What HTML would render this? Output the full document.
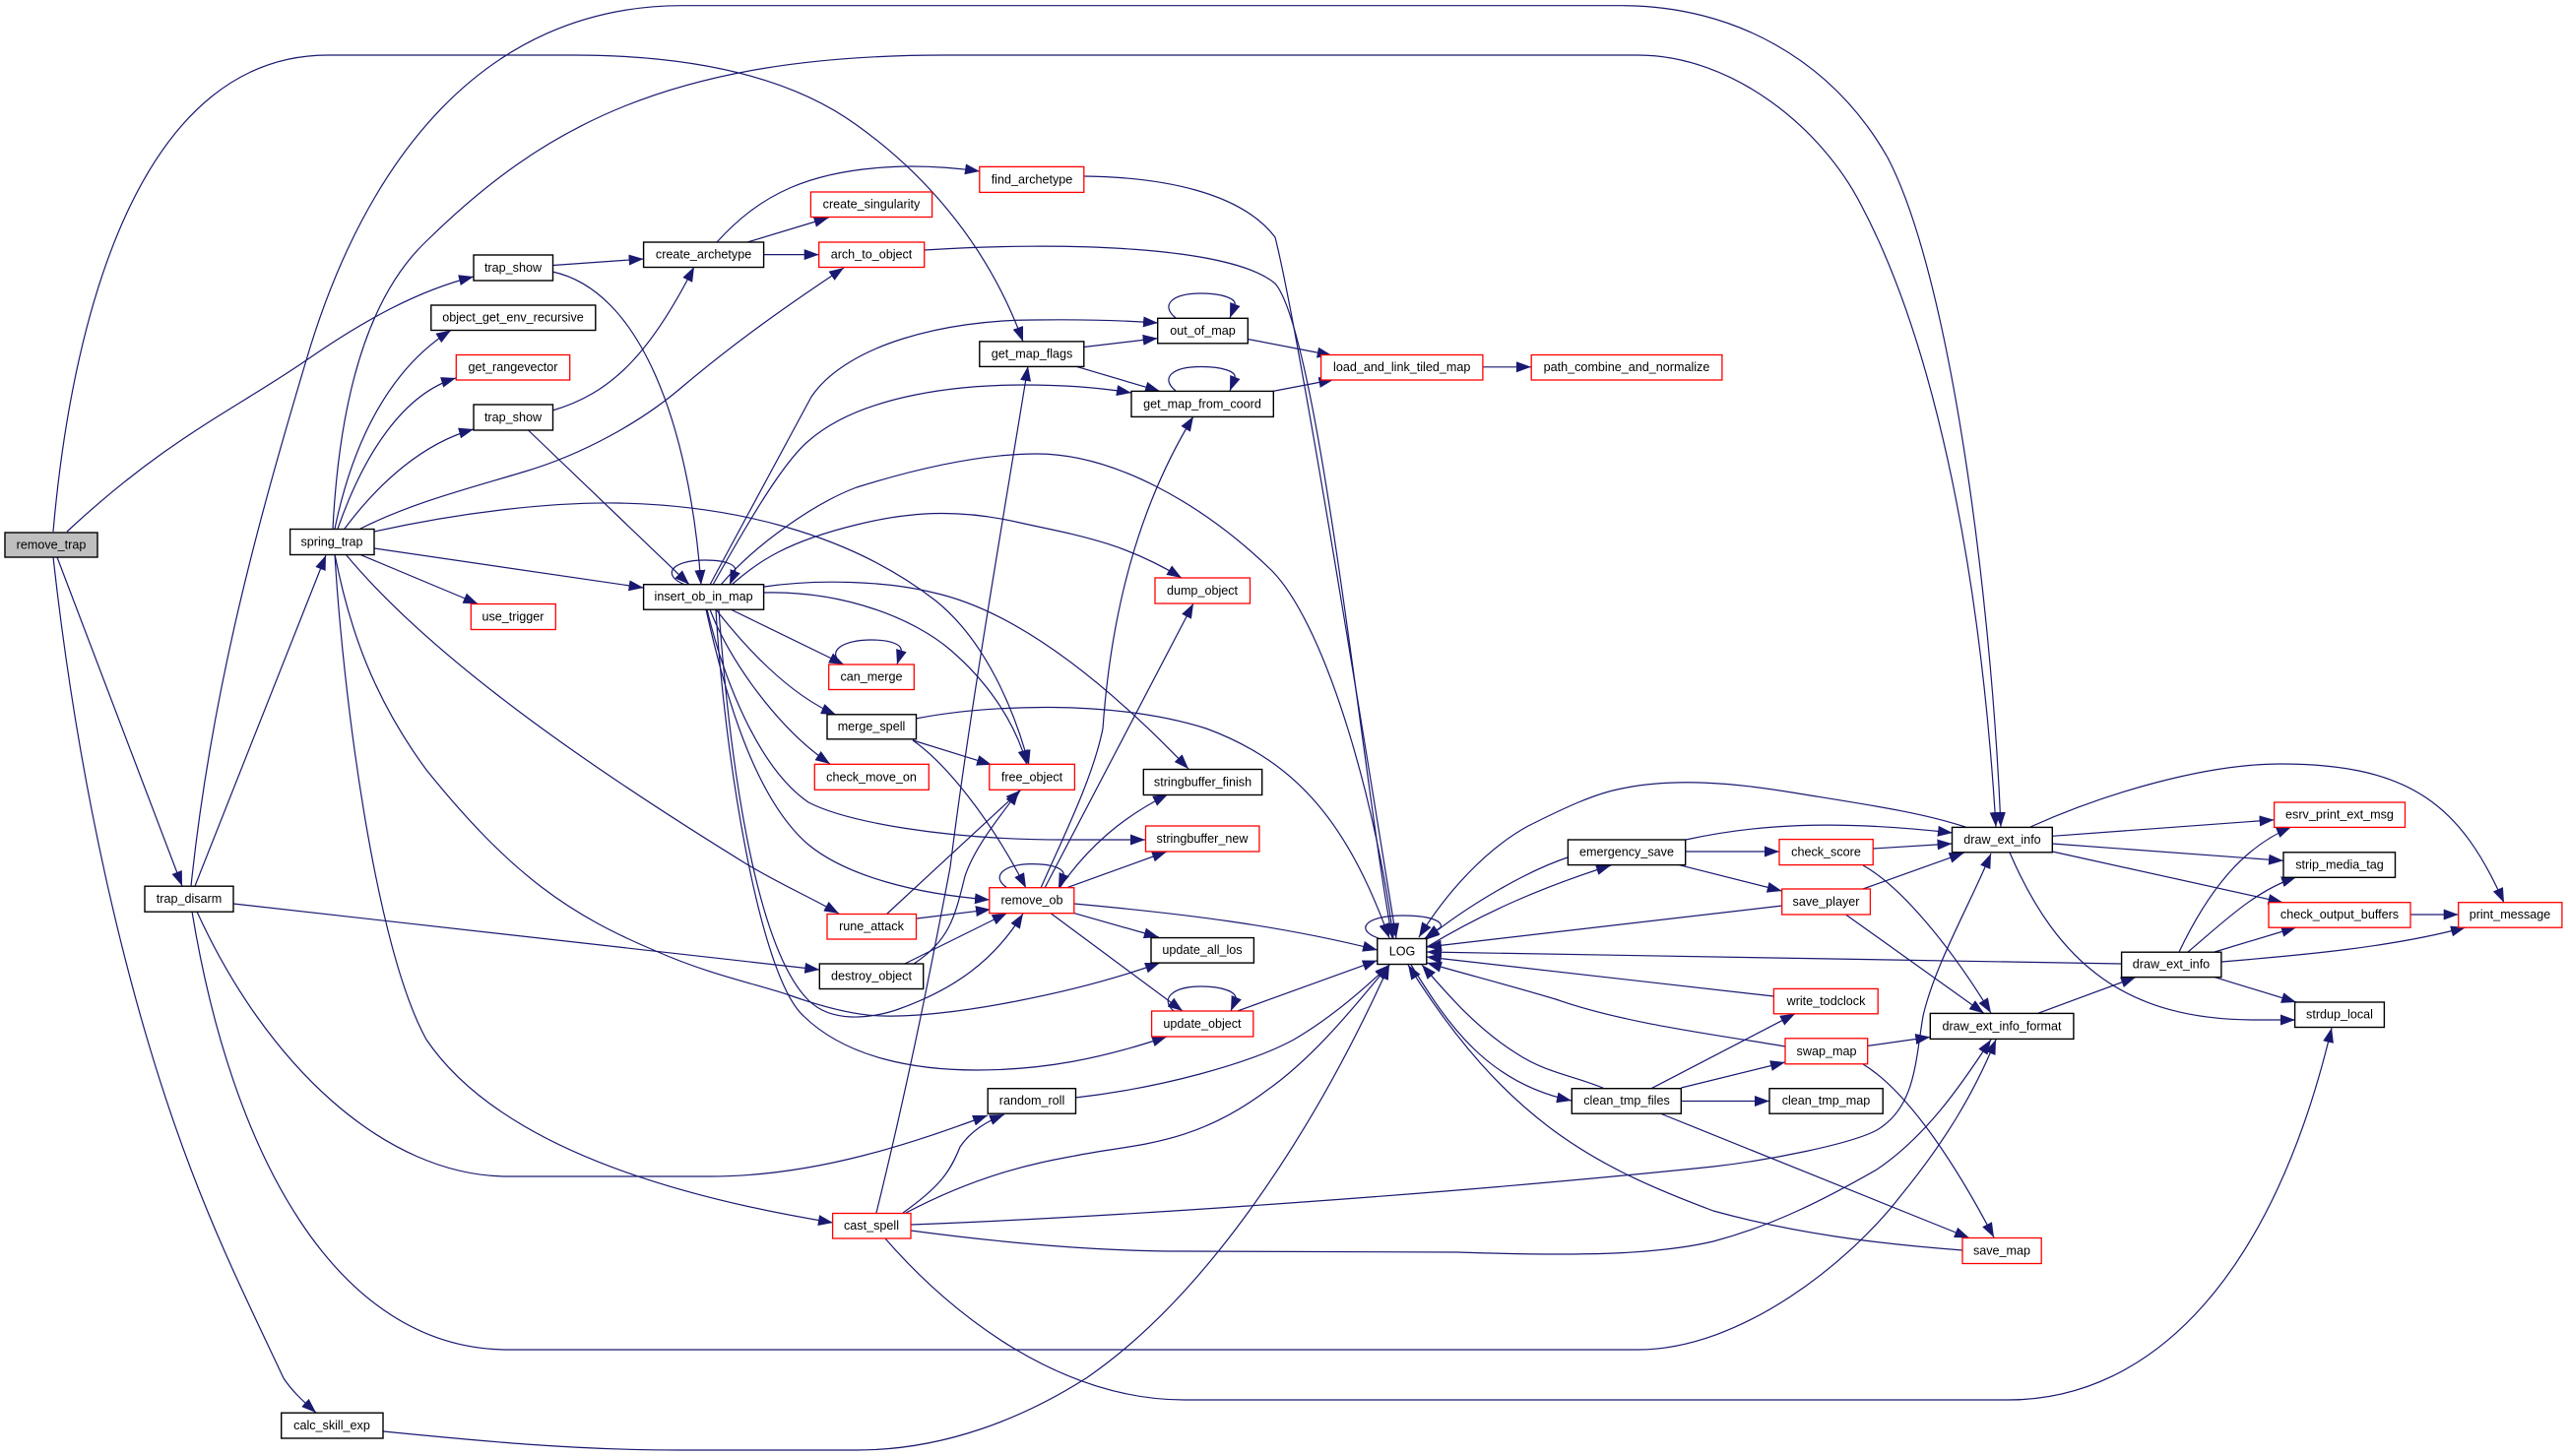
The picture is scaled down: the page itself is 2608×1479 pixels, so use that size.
<!DOCTYPE html>
<html><head><meta charset="utf-8"><title>remove_trap call graph</title>
<style>
html,body{margin:0;padding:0;background:#fff}
svg{display:block}
.e path{fill:none;stroke:#191970;stroke-width:1.2;marker-end:url(#a)}
.n rect{fill:#fff;stroke:#000;stroke-width:1.4}
.n rect.r{stroke:#f00;stroke-width:1.3}
.n rect.g{fill:#bfbfbf}
.n text{font-family:"Liberation Sans",sans-serif;font-size:12.6px;text-anchor:middle;fill:#000}
</style></head><body>
<svg xmlns="http://www.w3.org/2000/svg" width="2608" height="1479" viewBox="0 0 2608 1479">
<defs><marker id="a" markerUnits="userSpaceOnUse" markerWidth="16" markerHeight="11" refX="15" refY="5.5" orient="auto"><path d="M0,0L15,5.5L0,11z" fill="#191970"/></marker></defs>
<g class="e">
<path d="M54,540C75,300 150,56 333,56L582,56C700,56 800,76 870,127C930,170 1000,240 1039,347"/>
<path d="M68,540C170,445 240,415 311,366C370,325 425,295 481,281"/>
<path d="M58,566L185,900"/>
<path d="M54,566C80,800 130,1020 194,1188C225,1270 260,1340 288,1400C298,1415 310,1425 321,1435"/>
<path d="M198,900L331,564"/>
<path d="M194,900C215,700 262,530 311,366C370,165 490,5.7 693,5.7L1647,5.7C1760,5.7 1860,60 1917,160C1980,280 2022,600 2032,840"/>
<path d="M338,537C345,400 375,300 433,245C550,130 680,56 960,56L1663,56C1760,56 1850,130 1890,208C1960,340 2010,560 2027,840"/>
<path d="M340,537C358,450 395,375 458,335.5"/>
<path d="M343,537C370,460 410,400 463,384"/>
<path d="M350,537C385,490 430,450 481,436"/>
<path d="M366,537C420,510 480,495 533,479C590,462 650,430 694,392C750,345 800,310 857,272"/>
<path d="M380,540C470,520 560,510 627,511C740,513 860,540 950,610C1000,650 1030,720 1045,777"/>
<path d="M380,557L653.6,597"/>
<path d="M366,563.5L485.5,613.5"/>
<path d="M351,563C440,670 600,780 757,877C790,897 820,910 852,928"/>
<path d="M340,563C355,640 380,710 433,782C520,890 580,930 666,966C720,990 770,1000 802,1011C850,1028 880,1032 898,1032C960,1034 1090,1010 1178,978"/>
<path d="M340,563C348,700 380,960 433,1056C490,1140 620,1205 846,1242"/>
<path d="M561.5,269.5L653.6,263"/>
<path d="M561,276C650,295 700,430 712,594"/>
<path d="M561,417C620,400 660,360 705,271"/>
<path d="M536.5,437L700,593.7"/>
<path d="M728,246C770,200 820,170 925,169Q960,169 995,174"/>
<path d="M759,246L841.7,221"/>
<path d="M775.7,258.6L831.7,258.6"/>
<path d="M1101,179C1180,180 1260,195 1295,241C1320,340 1390,780 1418,953"/>
<path d="M939,254C1080,245 1250,250 1295,288C1340,340 1385,800 1414,953"/>
<path d="M1267.3,344.5L1352.7,361"/>
<path d="M1100.8,352.5L1175.7,343.6"/>
<path d="M1093,372.3L1178,397.4"/>
<path d="M1292.8,397.4L1354.4,385.6"/>
<path d="M1505.9,372.8L1555,372.8"/>
<path d="M1194,323C1178,310 1190,298 1220,298C1240,298 1256,303 1254,310L1249,323"/>
<path d="M1194,397C1178,384 1190,372.5 1220,372.5C1240,372.5 1256,377 1254,384L1249,397"/>
<path d="M1400,953C1376,945 1385,930 1425,930C1450,930 1466,935 1463,942L1447,953"/>
<path d="M696,594C672,585 680,569 716,569C738,569 750,574 746,582L741,594"/>
<path d="M856,675C838,662 855,650 885,650C905,650 917,655 915,662L911,675"/>
<path d="M1023,902C1005,890 1020,877.6 1048,877.6C1068,877.6 1082,882 1080,890L1075,902"/>
<path d="M1192,1027C1178,1015 1190,1002 1220,1002C1240,1002 1256,1007 1255,1015L1250,1027"/>
<path d="M721,594L824,403C860,350 960,325 1050,325Q1120,324 1176,328"/>
<path d="M724,594C760,530 795,470 821,448C870,405 960,391 1040,391Q1100,391 1149,399"/>
<path d="M732,594C770,550 830,510 870,495C950,470 1010,461 1053,461C1130,461 1220,510 1292,580C1350,640 1400,830 1415,953"/>
<path d="M743,594C770,570 800,550 870,533C930,518 980,518 1036,531C1090,543 1140,550 1200,587"/>
<path d="M776,596C830,588 900,590 948,602C1030,620 1120,690 1207,781"/>
<path d="M776,602C860,600 930,630 965,660C1000,690 1030,730 1043,777"/>
<path d="M742,619L857,675"/>
<path d="M727,619C755,655 800,705 849,726"/>
<path d="M721,619C740,670 790,740 843,776"/>
<path d="M718,619C735,690 770,780 821,815C860,835 960,853 1080,853L1163,853"/>
<path d="M717,619C735,700 765,810 821,858C860,890 930,908 1005,914"/>
<path d="M730,619C740,760 765,960 821,1016C845,1040 885,1034 910,1026C970,1005 1010,975 1039,928"/>
<path d="M727,619C735,760 770,990 816,1032C860,1075 930,1087 992,1087C1060,1087 1120,1075 1185,1053"/>
<path d="M930,730C1000,716 1130,710 1225,740C1320,775 1370,840 1411,953"/>
<path d="M927,752L1007,776.8"/>
<path d="M927,752C960,775 1005,830 1042,902"/>
<path d="M900.5,928.5L1036.5,802.7"/>
<path d="M931,933L1006,923.8"/>
<path d="M928,979C965,955 970,930 980,890C990,860 1015,830 1035,803"/>
<path d="M918.8,979L1022.6,927.6"/>
<path d="M237,918L832.3,985"/>
<path d="M200,926C270,1080 390,1195 516,1195L721,1195C830,1195 930,1160 1003,1133"/>
<path d="M195,926C235,1170 340,1371 516,1371L1663,1371C1770,1371 1880,1280 1930,1215C1975,1160 2005,1110 2027,1056"/>
<path d="M389,1454C480,1463 580,1473 690,1473L870,1473C960,1473 1040,1440 1103,1400C1220,1320 1330,1160 1411,980"/>
<path d="M890,1232C925,1090 950,960 965,881C985,720 1020,520 1044,372"/>
<path d="M917,1232C955,1205 965,1190 975,1165C985,1150 1000,1140 1020,1132"/>
<path d="M920,1232C1000,1190 1060,1180 1092,1174C1150,1162 1210,1165 1286,1108C1340,1070 1385,1010 1411,980"/>
<path d="M925,1244C1160,1235 1500,1210 1740,1185C1800,1178 1880,1162 1906,1148C1945,1125 1945,1080 1953,1032C1965,980 2000,920 2022,867"/>
<path d="M925,1250C1000,1260 1100,1271 1200,1271L1480,1272C1600,1276 1680,1275 1740,1261C1800,1245 1850,1220 1906,1188C1955,1155 1990,1105 2022,1056"/>
<path d="M899,1258C970,1340 1080,1422 1203,1422L2039,1422C2190,1422 2310,1290 2368,1044"/>
<path d="M1057,902C1080,850 1110,790 1120,740C1130,600 1165,500 1212,423"/>
<path d="M1061,902L1212,613"/>
<path d="M1076,902C1105,860 1140,830 1186,807"/>
<path d="M1083.6,901.7L1185,865"/>
<path d="M1091,918C1200,928 1300,940 1399,965"/>
<path d="M1090.8,927.6L1176.8,952"/>
<path d="M1067,927.6L1201,1027"/>
<path d="M1256.7,1027L1398.8,975.6"/>
<path d="M1092,1115C1180,1105 1270,1080 1314,1056C1350,1035 1385,1005 1411,980"/>
<path d="M1449,962C1510,925 1570,900 1636,879"/>
<path d="M1592,871C1550,885 1490,920 1447,955"/>
<path d="M1996,840C1950,825 1900,818 1820,805C1760,795 1700,790 1647,801C1620,806 1590,820 1552,839C1510,862 1470,905 1441,952"/>
<path d="M1712,853C1780,838 1860,832 1983,846"/>
<path d="M1711.7,865L1807,865"/>
<path d="M1705,878.6L1809.7,905"/>
<path d="M1902,862L1982.5,857"/>
<path d="M1892,879C1930,900 1980,960 2022,1029"/>
<path d="M1892,903L1994.6,866.3"/>
<path d="M1810,920L1449,962"/>
<path d="M1874.5,929L2015,1029.4"/>
<path d="M1801.4,1012L1448.7,972"/>
<path d="M1813,1063C1750,1052 1650,1040 1580,1015C1530,1000 1490,990 1449,978"/>
<path d="M2155,979C2000,977 1800,974 1449,967"/>
<path d="M1630,1106C1600,1093 1570,1090 1540,1070C1500,1045 1470,1010 1444,980"/>
<path d="M1433,980C1470,1040 1510,1100 1596,1118"/>
<path d="M1993,1270C1900,1263 1820,1252 1740,1230C1620,1185 1530,1140 1430,980"/>
<path d="M1677,1105.7L1823,1029.8"/>
<path d="M1707.3,1105L1813,1079"/>
<path d="M1707,1118.5L1797,1118.5"/>
<path d="M1686,1131L2000,1257.5"/>
<path d="M1896.7,1062.4L1960.3,1053.4"/>
<path d="M1892,1081C1940,1110 1990,1190 2025,1257"/>
<path d="M2084.3,849.3L2309.6,832.8"/>
<path d="M2084.3,857L2319,874.3"/>
<path d="M2084.3,865L2318.5,916.7"/>
<path d="M2041,866C2090,980 2160,1036 2290,1036L2331,1036"/>
<path d="M2062,840C2140,805 2240,776 2316,776C2450,776 2500,820 2543,917"/>
<path d="M2069.4,1029.4L2169,992.6"/>
<path d="M2213,967C2245,900 2280,860 2327,840"/>
<path d="M2222,967C2260,935 2290,905 2332,891"/>
<path d="M2249,967L2332,942"/>
<path d="M2256,977C2340,970 2430,962 2504,942"/>
<path d="M2249,992.6L2332,1018"/>
<path d="M2448,929L2496.7,929"/>
</g>
<g class="n">
<rect class="g" x="5" y="541" width="94" height="25"/><text x="52" y="557.5">remove_trap</text>
<rect x="294.6" y="537.5" width="85.4" height="26"/><text x="337" y="554.5">spring_trap</text>
<rect x="481" y="259" width="80.5" height="26"/><text x="521" y="276">trap_show</text>
<rect x="437.8" y="310" width="167" height="25.5"/><text x="521" y="326.5">object_get_env_recursive</text>
<rect class="r" x="463.3" y="360.5" width="115.4" height="25.5"/><text x="521" y="377">get_rangevector</text>
<rect x="481" y="411" width="80.5" height="26"/><text x="521" y="428">trap_show</text>
<rect x="653.6" y="246" width="122" height="25.5"/><text x="714.6" y="262.5">create_archetype</text>
<rect x="653.6" y="593.7" width="122" height="25.5"/><text x="714.6" y="610.2">insert_ob_in_map</text>
<rect class="r" x="478.3" y="613.5" width="86" height="26"/><text x="521" y="630.5">use_trigger</text>
<rect class="r" x="823.4" y="195" width="123.2" height="25.5"/><text x="885" y="211.5">create_singularity</text>
<rect class="r" x="831.7" y="246" width="107" height="25.5"/><text x="885" y="262.5">arch_to_object</text>
<rect class="r" x="841.7" y="675" width="86.6" height="25.5"/><text x="885" y="691.5">can_merge</text>
<rect x="840" y="725.8" width="90.5" height="25"/><text x="885" y="742">merge_spell</text>
<rect class="r" x="827.3" y="776.3" width="116" height="26"/><text x="885" y="793.3">check_move_on</text>
<rect class="r" x="994.8" y="169.4" width="106" height="26"/><text x="1048" y="186.4">find_archetype</text>
<rect x="994.8" y="346.9" width="106" height="25.5"/><text x="1048" y="363.4">get_map_flags</text>
<rect x="1175.7" y="323.3" width="91.6" height="25.5"/><text x="1221.5" y="339.8">out_of_map</text>
<rect x="1149" y="397.4" width="144.3" height="26"/><text x="1221" y="414.4">get_map_from_coord</text>
<rect class="r" x="1341.6" y="360.5" width="164.3" height="25.5"/><text x="1423.7" y="377">load_and_link_tiled_map</text>
<rect class="r" x="1555.2" y="360.5" width="193.7" height="25.5"/><text x="1652" y="377">path_combine_and_normalize</text>
<rect class="r" x="1173" y="587" width="96.5" height="26"/><text x="1221" y="604">dump_object</text>
<rect class="r" x="1004.8" y="776.3" width="86.6" height="26"/><text x="1048" y="793.3">free_object</text>
<rect x="1161.3" y="781.5" width="120.4" height="26"/><text x="1221.5" y="798.5">stringbuffer_finish</text>
<rect class="r" x="1163.5" y="839" width="115.4" height="26"/><text x="1221" y="856">stringbuffer_new</text>
<rect class="r" x="1004.8" y="901.7" width="86" height="26"/><text x="1048" y="918.7">remove_ob</text>
<rect class="r" x="840" y="928.5" width="90.5" height="25.5"/><text x="885" y="945">rune_attack</text>
<rect x="832.3" y="979" width="105.4" height="25.5"/><text x="885" y="995.5">destroy_object</text>
<rect x="1169" y="952.6" width="104.4" height="25.5"/><text x="1221" y="969">update_all_los</text>
<rect class="r" x="1169.6" y="1027" width="103.2" height="26"/><text x="1221" y="1044">update_object</text>
<rect x="1003.2" y="1105.7" width="89.3" height="25.5"/><text x="1048" y="1122.2">random_roll</text>
<rect class="r" x="845.6" y="1232.5" width="79.4" height="25.5"/><text x="885" y="1249">cast_spell</text>
<rect x="1398.8" y="953.5" width="50" height="26"/><text x="1424" y="970.5">LOG</text>
<rect x="1592.4" y="853" width="119.3" height="25.6"/><text x="1652" y="869.5">emergency_save</text>
<rect x="1596.3" y="1105.7" width="111" height="25.5"/><text x="1652" y="1122.2">clean_tmp_files</text>
<rect x="147" y="900.2" width="90" height="26"/><text x="192" y="917.2">trap_disarm</text>
<rect x="285.7" y="1435.2" width="103.3" height="25.8"/><text x="337" y="1452">calc_skill_exp</text>
<rect x="1982.5" y="840.4" width="101.8" height="25.4"/><text x="2033.5" y="857">draw_ext_info</text>
<rect class="r" x="1807" y="852.6" width="95.2" height="26"/><text x="1854.5" y="869.5">check_score</text>
<rect class="r" x="1809.7" y="903" width="89.7" height="26"/><text x="1854.5" y="920">save_player</text>
<rect class="r" x="1801.4" y="1004.4" width="105.8" height="25.4"/><text x="1854.5" y="1021">write_todclock</text>
<rect class="r" x="1813" y="1054.8" width="83.7" height="26"/><text x="1855" y="1071.8">swap_map</text>
<rect x="1797" y="1105.7" width="115.2" height="25.5"/><text x="1854.5" y="1122.2">clean_tmp_map</text>
<rect class="r" x="1993" y="1257.5" width="80.2" height="26"/><text x="2033" y="1274.5">save_map</text>
<rect x="1960.3" y="1029.4" width="145.6" height="26"/><text x="2033" y="1046.4">draw_ext_info_format</text>
<rect x="2154.6" y="967.2" width="101.3" height="25.4"/><text x="2205" y="983.7">draw_ext_info</text>
<rect class="r" x="2309.6" y="815" width="132.9" height="25.4"/><text x="2376" y="831.5">esrv_print_ext_msg</text>
<rect x="2319" y="865.8" width="113.5" height="25.5"/><text x="2376" y="882.3">strip_media_tag</text>
<rect class="r" x="2304" y="916.7" width="144" height="25.5"/><text x="2376" y="933.2">check_output_buffers</text>
<rect class="r" x="2496.7" y="916.7" width="105.2" height="25.5"/><text x="2549" y="933.2">print_message</text>
<rect x="2330.6" y="1018" width="90.8" height="25.5"/><text x="2376" y="1034.5">strdup_local</text>
</g>
</svg>
</body></html>
